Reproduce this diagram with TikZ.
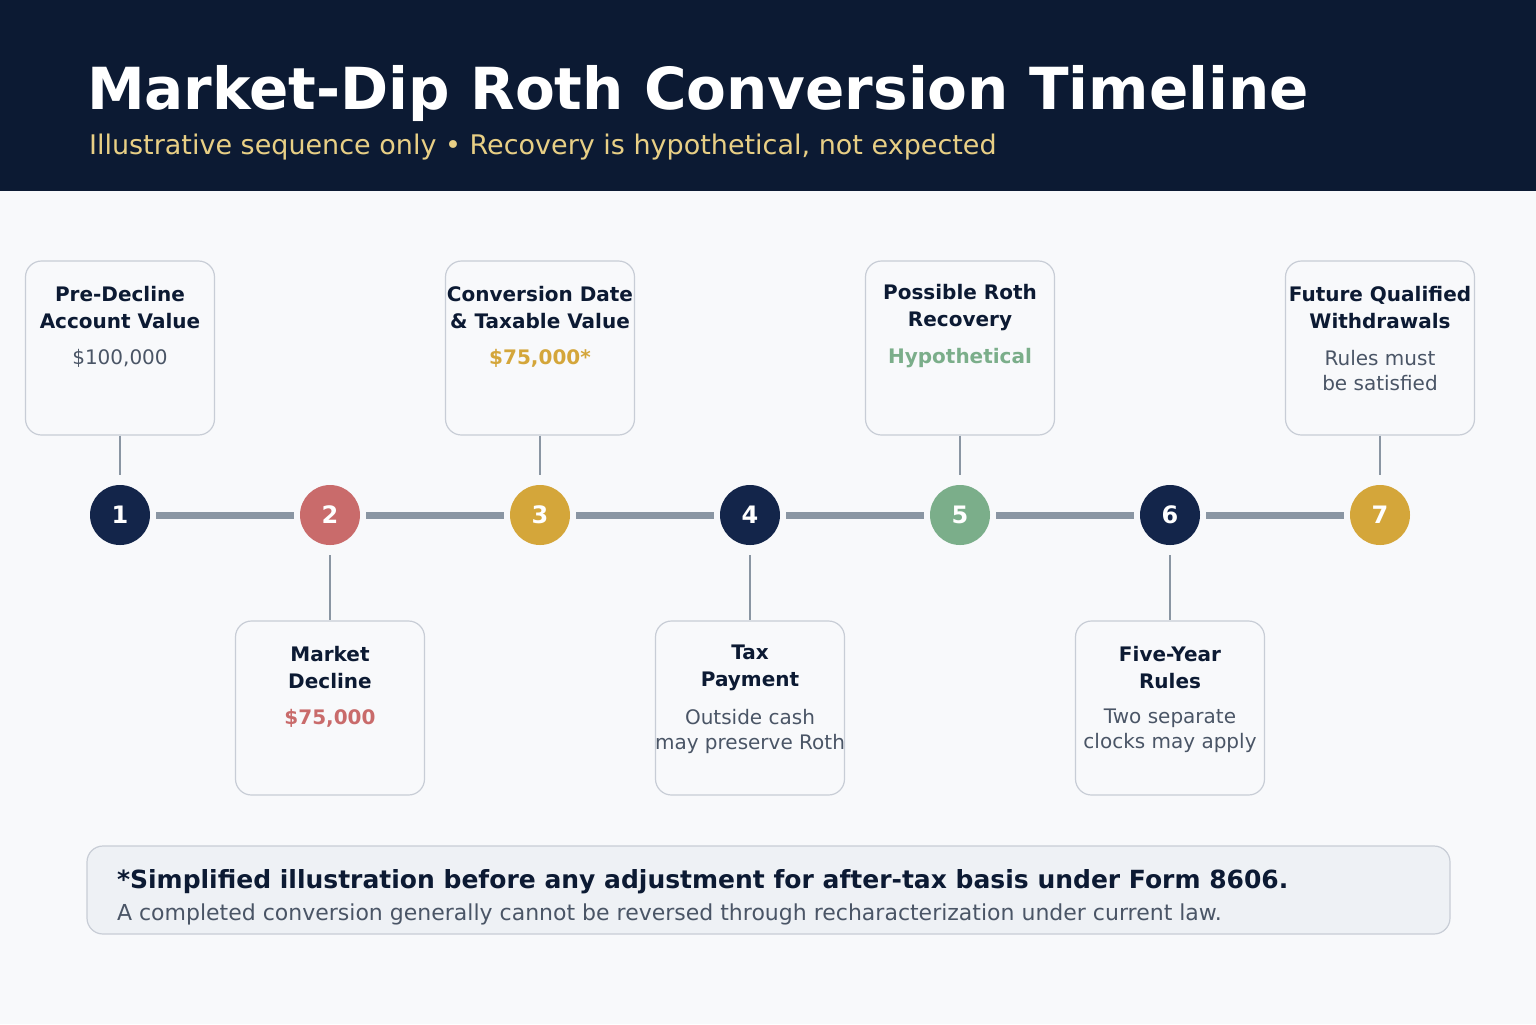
\documentclass[tikz,border=0pt]{standalone}
\usepackage{fontspec}
\setmainfont{DejaVu Sans}
\definecolor{headbg}{HTML}{0C1A33}
\definecolor{pagebg}{HTML}{F8F9FB}
\definecolor{navy}{HTML}{13254A}
\definecolor{rose}{HTML}{C96B6B}
\definecolor{gold}{HTML}{D4A63A}
\definecolor{sage}{HTML}{7BAE8A}
\definecolor{rail}{HTML}{8A96A3}
\definecolor{edge}{HTML}{C8CDD6}
\definecolor{note}{HTML}{EEF1F5}
\definecolor{ink}{HTML}{0C1A33}
\definecolor{muted}{HTML}{4A5566}
\definecolor{subt}{HTML}{E8CF85}
\tikzset{
  card/.style={draw=edge, fill=pagebg, rounded corners=8pt, minimum width=94.5pt, minimum height=87pt, line width=0.6pt},
  dot/.style={circle, minimum size=30pt, inner sep=0pt, text=white, font=\bfseries\fontsize{12}{12}\selectfont},
  head/.style={align=center, text=ink, font=\bfseries\fontsize{10}{13.5}\selectfont},
  val/.style={align=center, font=\fontsize{10}{12.5}\selectfont},
  bval/.style={val, font=\bfseries\fontsize{10}{12.5}\selectfont},
  stem/.style={draw=rail, line width=1.1pt},
  seg/.style={draw=rail, line width=3.5pt}
}
\begin{document}
\begin{tikzpicture}[x=0.5pt, y=-0.5pt]
        % background and header
        \fill[pagebg] (0,0) rectangle (1536,1024);
        \fill[headbg] (0,0) rectangle (1536,191);
        \useasboundingbox (0,0) rectangle (1536,1024);
        \node[anchor=west, text=white, font=\bfseries\fontsize{29}{29}\selectfont] (title) at (80,93) {Market-Dip Roth Conversion Timeline};
        \node[anchor=west, text=subt, font=\fontsize{13.5}{13.5}\selectfont] (subtitle) at (82,147) {Illustrative sequence only • Recovery is hypothetical, not expected};
        % circles on the timeline
        \foreach \i/\c in {1/navy, 2/rose, 3/gold, 4/navy, 5/sage, 6/navy, 7/gold}
          \node[dot, fill=\c] (s\i) at ({120+210*(\i-1)}, 515) {\i};
        \foreach \a/\b in {1/2, 2/3, 3/4, 4/5, 5/6, 6/7}
          \draw[seg] ([xshift=3pt]s\a.east) -- ([xshift=-3pt]s\b.west);
        % cards above
        \foreach \i in {1,3,5,7} {
          \node[card] (c\i) at ({120+210*(\i-1)}, 348) {};
          \draw[stem] (c\i.south) -- ([yshift=5pt]s\i.north);
        }
        % cards below
        \foreach \i in {2,4,6} {
          \node[card] (c\i) at ({120+210*(\i-1)}, 708) {};
          \draw[stem] ([yshift=-5pt]s\i.south) -- (c\i.north);
        }
        % card texts
        \node[head] (h1) at (120,308) {Pre-Decline\\Account Value};
        \node[val, text=muted] (v1) at (120,358) {\$100,000};
        \node[head] (h2) at (330,668) {Market\\Decline};
        \node[bval, text=rose] (v2) at (330,718) {\$75,000};
        \node[head] (h3) at (540,308) {Conversion Date\\\& Taxable Value};
        \node[bval, text=gold] (v3) at (540,358) {\$75,000*};
        \node[head] (h4) at (750,668) {Tax\\Payment};
        \node[val, text=muted] (v4) at (750,731) {Outside cash\\may preserve Roth};
        \node[head] (h5) at (960,308) {Possible Roth\\Recovery};
        \node[bval, text=sage] (v5) at (960,358) {Hypothetical};
        \node[head] (h6) at (1170,668) {Five-Year\\Rules};
        \node[val, text=muted] (v6) at (1170,731) {Two separate\\clocks may apply};
        \node[head] (h7) at (1380,308) {Future Qualified\\Withdrawals};
        \node[val, text=muted] (v7) at (1380,371) {Rules must\\be satisfied};
        % footnote box
        \draw[draw=edge, fill=note, rounded corners=8pt, line width=0.6pt] (87,846) rectangle (1450,934);
        \node[anchor=west, text=ink, font=\bfseries\fontsize{12.5}{12.5}\selectfont] (fn1) at (110,882) {*Simplified illustration before any adjustment for after-tax basis under Form 8606.};
        \node[anchor=west, text=muted, font=\fontsize{11}{11}\selectfont] (fn2) at (110,914) {A completed conversion generally cannot be reversed through recharacterization under current law.};
      \end{tikzpicture}
\end{document}
